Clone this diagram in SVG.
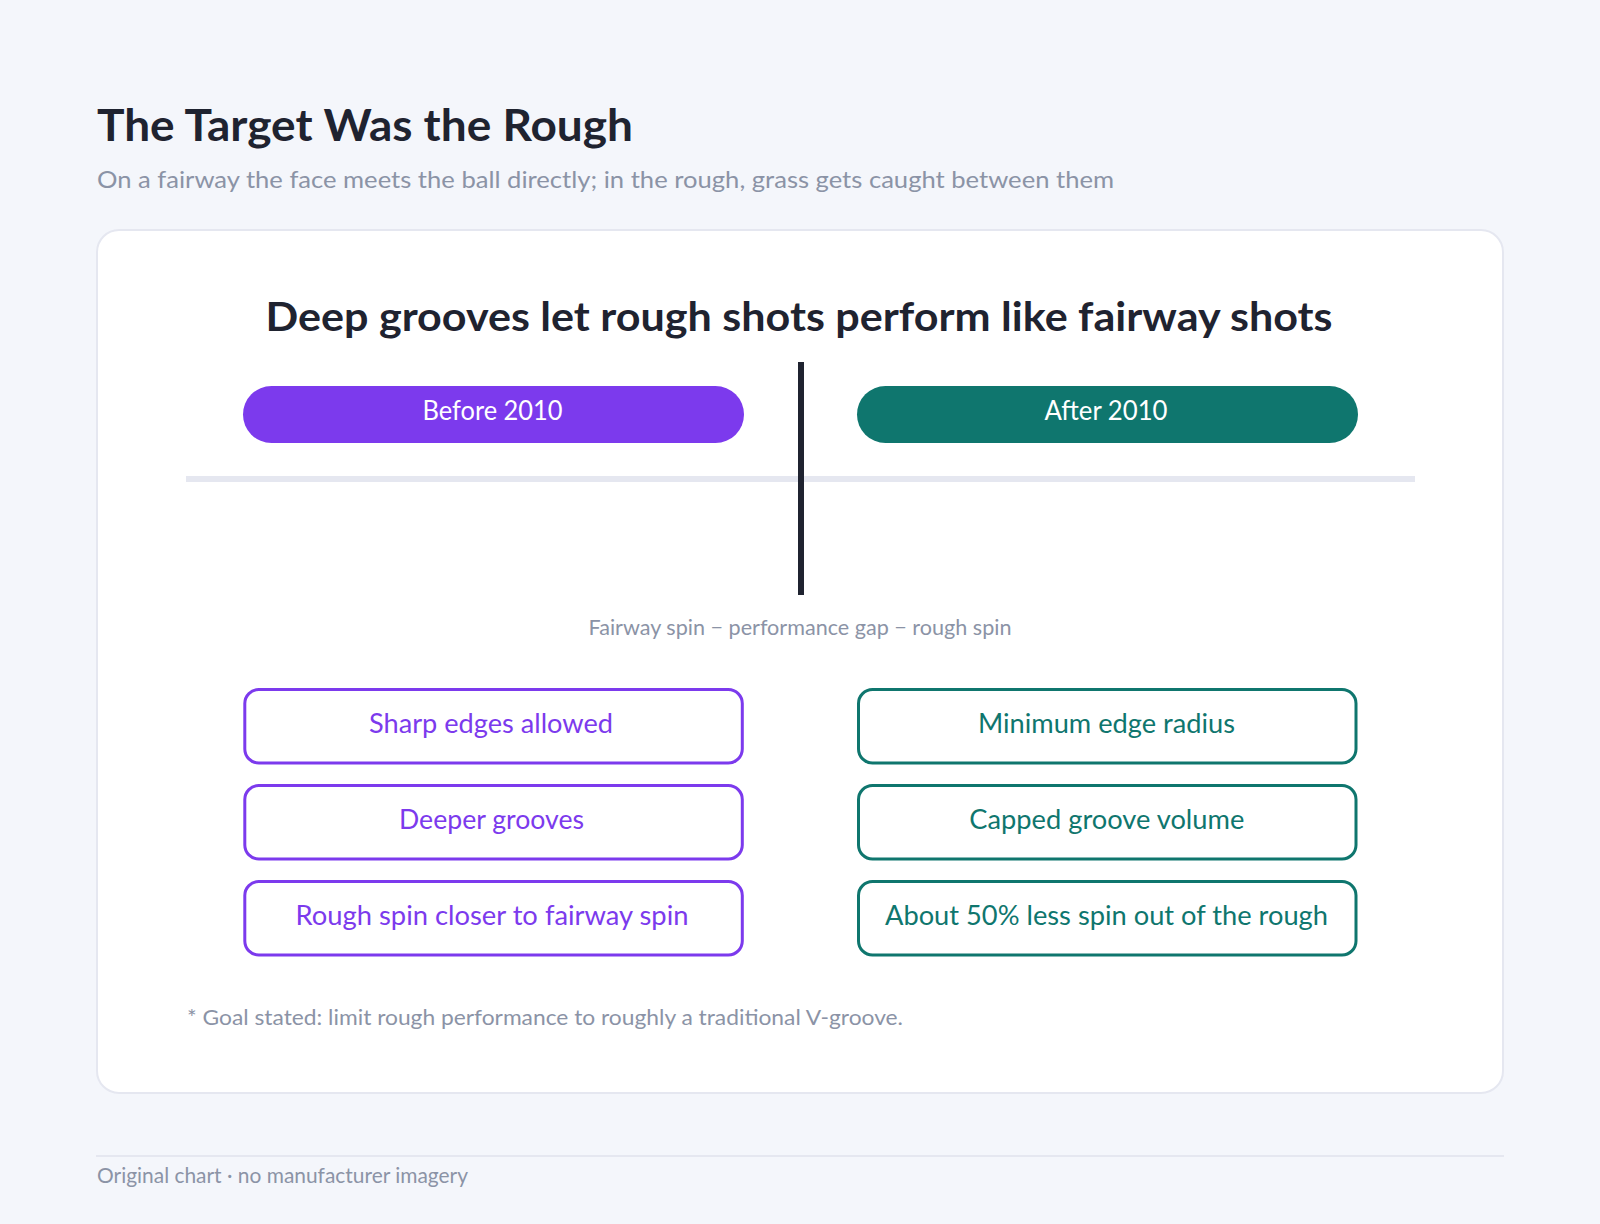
<svg xmlns="http://www.w3.org/2000/svg" width="1600" height="1224" viewBox="0 0 1600 1224">
<style>
text{font-family:Lato,"Noto Sans",sans-serif}
.title{font-size:44px;font-weight:700;fill:#1f2330}
.sub{font-size:24px;fill:#8b93a6}
.head{font-size:40px;font-weight:700;fill:#1f2330;text-anchor:middle}
.pilltxt{font-size:26px;fill:#ffffff;text-anchor:middle}
.cap{font-size:21px;fill:#8b93a6;text-anchor:middle}
.boxp{fill:#ffffff;stroke:#7c3aed;stroke-width:3}
.boxt{fill:#ffffff;stroke:#0f766e;stroke-width:3}
.tp{font-size:27px;fill:#7c3aed;text-anchor:middle}
.tt{font-size:27px;fill:#0f766e;text-anchor:middle}
.note{font-size:21px;fill:#8b93a6}
</style>
<rect width="1600" height="1224" fill="#f4f6fb"/>
<g id="header">
<text class="title" x="97" y="141" textLength="536" lengthAdjust="spacingAndGlyphs">The Target Was the Rough</text>
<text class="sub" x="97" y="188" textLength="1017" lengthAdjust="spacingAndGlyphs">On a fairway the face meets the ball directly; in the rough, grass gets caught between them</text>
</g>
<g id="card">
<rect x="97" y="230" width="1406" height="863" rx="22" fill="#ffffff" stroke="#e5e7f0" stroke-width="2"/>
<text class="head" x="799" y="331" textLength="1067" lengthAdjust="spacingAndGlyphs">Deep grooves let rough shots perform like fairway shots</text>
</g>
<g id="connectors">
<line x1="186" y1="479" x2="1415" y2="479" stroke="#e5e7f0" stroke-width="6"/>
<line x1="801" y1="362" x2="801" y2="595" stroke="#1f2330" stroke-width="6"/>
</g>
<g id="before-pill">
<rect x="243" y="386" width="501" height="57" rx="28.5" fill="#7c3aed"/>
<text class="pilltxt" x="492.5" y="420" textLength="140" lengthAdjust="spacingAndGlyphs">Before 2010</text>
</g>
<g id="after-pill">
<rect x="857" y="386" width="501" height="57" rx="28.5" fill="#0f766e"/>
<text class="pilltxt" x="1106" y="420" textLength="123" lengthAdjust="spacingAndGlyphs">After 2010</text>
</g>
<g id="gap-label">
<text class="cap" x="800" y="635" textLength="423" lengthAdjust="spacingAndGlyphs">Fairway spin − performance gap − rough spin</text>
</g>
<g id="before-1">
<rect class="boxp" x="244.8" y="689.5" width="497.5" height="73.5" rx="14"/>
<text class="tp" x="491" y="733" textLength="244" lengthAdjust="spacingAndGlyphs">Sharp edges allowed</text>
</g>
<g id="before-2">
<rect class="boxp" x="244.8" y="785.5" width="497.5" height="73.5" rx="14"/>
<text class="tp" x="491.5" y="829" textLength="185" lengthAdjust="spacingAndGlyphs">Deeper grooves</text>
</g>
<g id="before-3">
<rect class="boxp" x="244.8" y="881.5" width="497.5" height="73.5" rx="14"/>
<text class="tp" x="492" y="925" textLength="393" lengthAdjust="spacingAndGlyphs">Rough spin closer to fairway spin</text>
</g>
<g id="after-1">
<rect class="boxt" x="858.5" y="689.5" width="497.5" height="73.5" rx="14"/>
<text class="tt" x="1106.5" y="733" textLength="257" lengthAdjust="spacingAndGlyphs">Minimum edge radius</text>
</g>
<g id="after-2">
<rect class="boxt" x="858.5" y="785.5" width="497.5" height="73.5" rx="14"/>
<text class="tt" x="1106.8" y="829" textLength="275" lengthAdjust="spacingAndGlyphs">Capped groove volume</text>
</g>
<g id="after-3">
<rect class="boxt" x="858.5" y="881.5" width="497.5" height="73.5" rx="14"/>
<text class="tt" x="1106.5" y="925" textLength="443" lengthAdjust="spacingAndGlyphs">About 50% less spin out of the rough</text>
</g>
<g id="footnote">
<text class="note" x="187" y="1025" font-size="22" textLength="716" lengthAdjust="spacingAndGlyphs">* Goal stated: limit rough performance to roughly a traditional V-groove.</text>
</g>
<g id="footer">
<line x1="96" y1="1156" x2="1504" y2="1156" stroke="#e5e7f0" stroke-width="2"/>
<text class="note" x="97" y="1183" font-size="20" textLength="371" lengthAdjust="spacingAndGlyphs">Original chart · no manufacturer imagery</text>
</g>
</svg>
